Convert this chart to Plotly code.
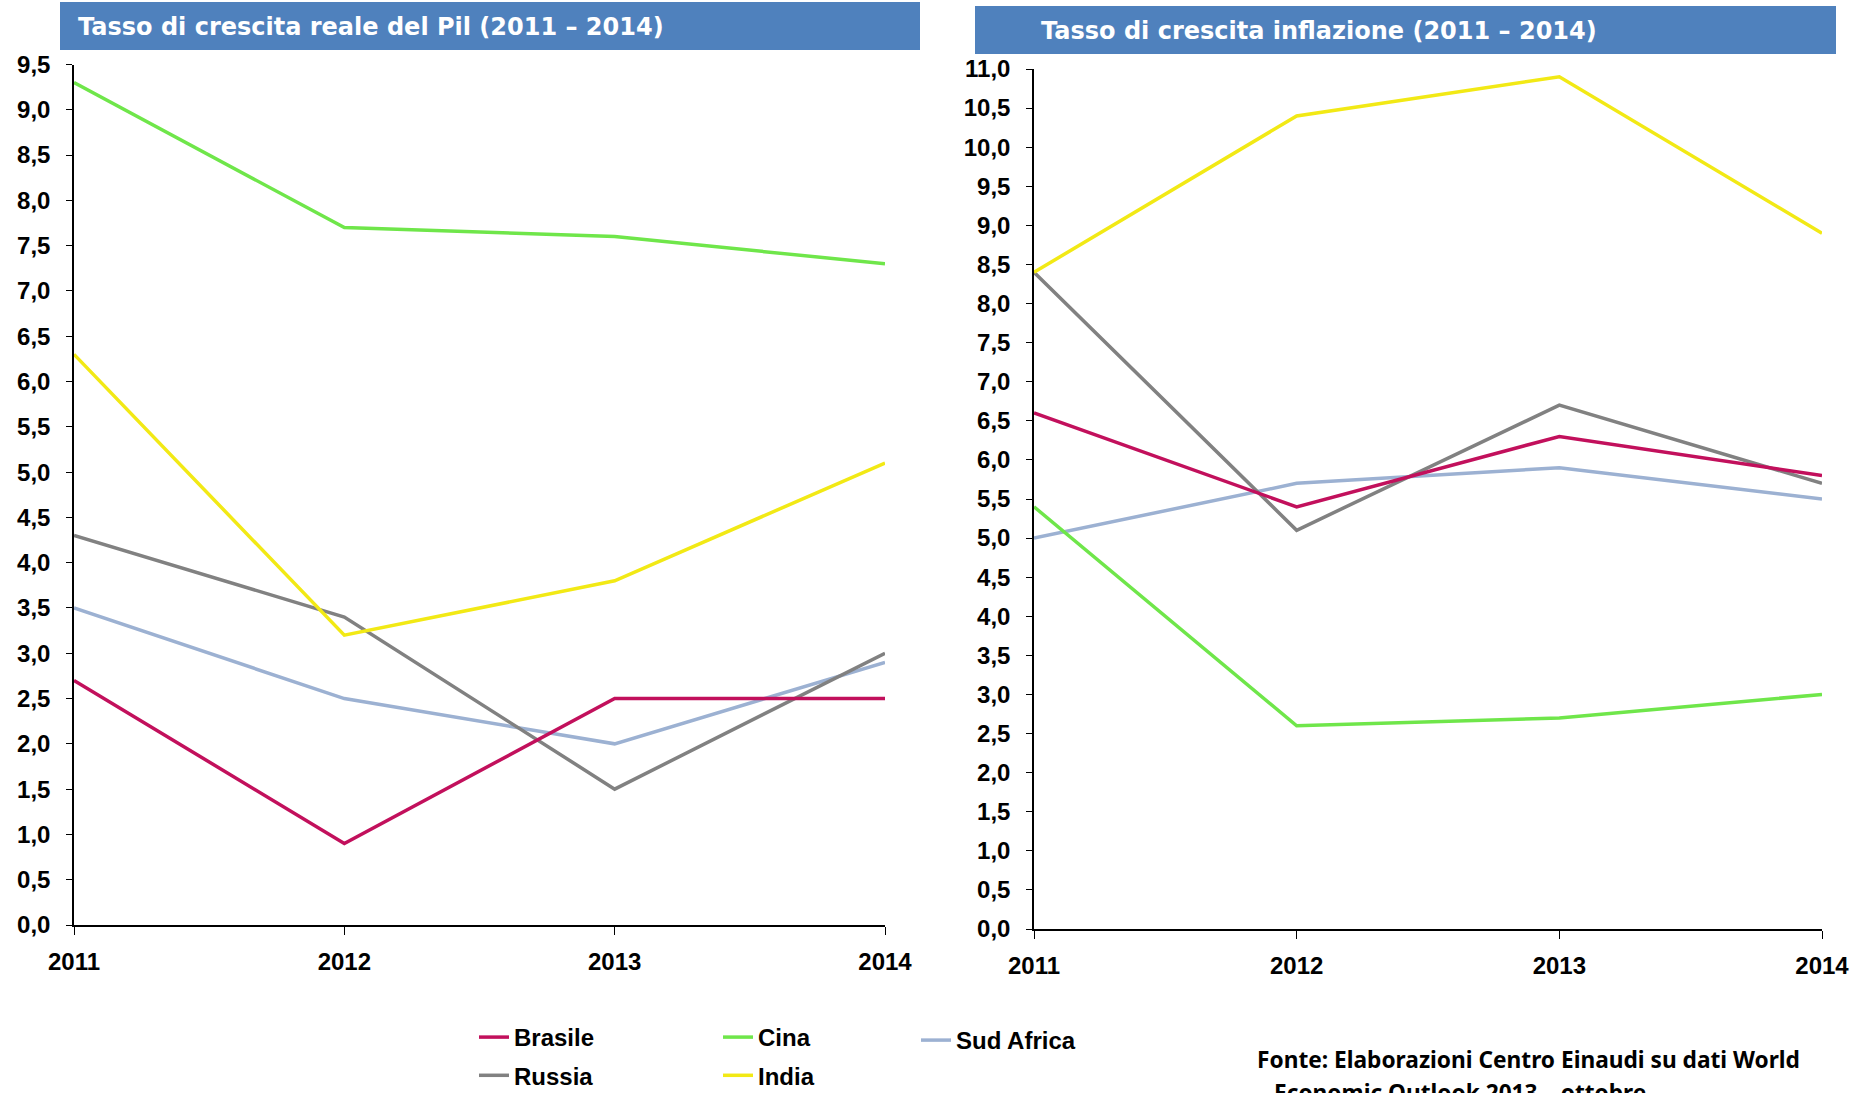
import plotly.graph_objects as go

years = [2011, 2012, 2013, 2014]
series_names = ["Brasile", "Russia", "Cina", "India", "Sud Africa"]
series_colors = {
    "Brasile": "#C2105C",
    "Russia": "#818181",
    "Cina": "#6FE64A",
    "India": "#F2E915",
    "Sud Africa": "#9CB1D2",
}
series_legend = {"Brasile": "legend", "Russia": "legend", "Cina": "legend2",
                 "India": "legend2", "Sud Africa": "legend3"}

# Tasso di crescita reale del Pil
pil_brasile = [2.7, 0.9, 2.5, 2.5]
pil_russia = [4.3, 3.4, 1.5, 3.0]
pil_cina = [9.3, 7.7, 7.6, 7.3]
pil_india = [6.3, 3.2, 3.8, 5.1]
pil_sudafrica = [3.5, 2.5, 2.0, 2.9]

# Tasso di crescita inflazione
inf_brasile = [6.6, 5.4, 6.3, 5.8]
inf_russia = [8.4, 5.1, 6.7, 5.7]
inf_cina = [5.4, 2.6, 2.7, 3.0]
inf_india = [8.4, 10.4, 10.9, 8.9]
inf_sudafrica = [5.0, 5.7, 5.9, 5.5]

pil = {"Brasile": pil_brasile, "Russia": pil_russia, "Cina": pil_cina,
       "India": pil_india, "Sud Africa": pil_sudafrica}
inf = {"Brasile": inf_brasile, "Russia": inf_russia, "Cina": inf_cina,
       "India": inf_india, "Sud Africa": inf_sudafrica}

title_left = "Tasso di crescita reale del Pil (2011 – 2014)"
title_right = "Tasso di crescita inflazione (2011 – 2014)"
source_line1 = "Fonte: Elaborazioni Centro Einaudi su dati World"
source_line2 = "Economic Outlook 2013 – ottobre"

W, H = 1872, 1093
def px(x):
    return x / W
def py(y):
    return 1 - y / H

fig = go.Figure()
plot_order = ["Sud Africa", "Russia", "Brasile", "India", "Cina"]
legend_order = ["Brasile", "Russia", "Cina", "India", "Sud Africa"]
for name in plot_order:
    fig.add_trace(go.Scatter(x=years, y=pil[name], mode="lines", name=name,
                             line=dict(color=series_colors[name], width=3.5),
                             xaxis="x", yaxis="y", showlegend=True,
                             legend=series_legend[name], legendgroup=name,
                             legendrank=legend_order.index(name)))
    fig.add_trace(go.Scatter(x=years, y=inf[name], mode="lines", name=name,
                             line=dict(color=series_colors[name], width=3.5),
                             xaxis="x2", yaxis="y2", showlegend=False,
                             legendgroup=name))

tickfont = dict(family="Liberation Sans, Arial, sans-serif", size=24, color="black", weight="bold")
common_x = dict(range=[2011, 2014], tickvals=years, ticktext=[str(y) for y in years],
                showline=True, linecolor="black", linewidth=1.5, ticks="outside",
                ticklen=8, tickwidth=1.2, tickcolor="black", showgrid=False,
                zeroline=False, tickfont=tickfont, ticklabelstandoff=6, automargin=False)
common_y = dict(showline=True, linecolor="black", linewidth=1.5, ticks="outside",
                ticklen=6, tickwidth=1.2, tickcolor="black", showgrid=False,
                zeroline=False, tickfont=tickfont, dtick=0.5, tick0=0,
                tickformat=".1f", ticklabelstandoff=11, automargin=False)

fig.update_layout(
    width=W, height=H,
    margin=dict(l=0, r=0, t=0, b=0, autoexpand=False),
    paper_bgcolor="white", plot_bgcolor="white",
    separators=",.",
    xaxis=dict(domain=[px(74), px(885)], anchor="y", **common_x),
    yaxis=dict(domain=[py(925), py(64.5)], anchor="x", range=[0, 9.5], **common_y),
    xaxis2=dict(domain=[px(1034), px(1822)], anchor="y2", **common_x),
    yaxis2=dict(domain=[py(929), py(69)], anchor="x2", range=[0, 11], **common_y),
)

legend_font = dict(family="Liberation Sans, Arial, sans-serif", size=24, color="black", weight="bold")
leg_common = dict(orientation="v", xanchor="left", yanchor="top", font=legend_font,
                  bgcolor="rgba(0,0,0,0)", tracegroupgap=4, traceorder="grouped",
                  groupclick="toggleitem")
fig.update_layout(
    legend=dict(x=px(474), y=py(1015), **leg_common),
    legend2=dict(x=px(718), y=py(1015), **leg_common),
    legend3=dict(x=px(916), y=py(1018), **leg_common),
)

# title bars
fig.add_shape(type="rect", xref="paper", yref="paper", x0=px(60), x1=px(920),
              y0=py(50), y1=py(2), fillcolor="#4F81BD", line=dict(width=0), layer="below")
fig.add_shape(type="rect", xref="paper", yref="paper", x0=px(975), x1=px(1836),
              y0=py(54), y1=py(6), fillcolor="#4F81BD", line=dict(width=0), layer="below")

title_font = dict(family="DejaVu Sans, Verdana, sans-serif", size=24, color="white", weight="bold")
fig.add_annotation(xref="paper", yref="paper", x=px(76), y=py(27), xanchor="left",
                   yanchor="middle", text=title_left, showarrow=False, font=title_font)
fig.add_annotation(xref="paper", yref="paper", x=px(1039), y=py(31), xanchor="left",
                   yanchor="middle", text=title_right, showarrow=False, font=title_font)

src_font = dict(family="Noto Sans, sans-serif", size=22.7, color="black", weight="bold")
fig.add_annotation(xref="paper", yref="paper", x=px(1255), y=py(1059), xanchor="left",
                   yanchor="middle", text=source_line1, showarrow=False, font=src_font)
fig.add_annotation(xref="paper", yref="paper", x=px(1272), y=py(1092), xanchor="left",
                   yanchor="middle", text=source_line2, showarrow=False, font=src_font)

fig.write_html("out.html", config={"displayModeBar": False},
               post_script="document.body.style.margin='0';")
